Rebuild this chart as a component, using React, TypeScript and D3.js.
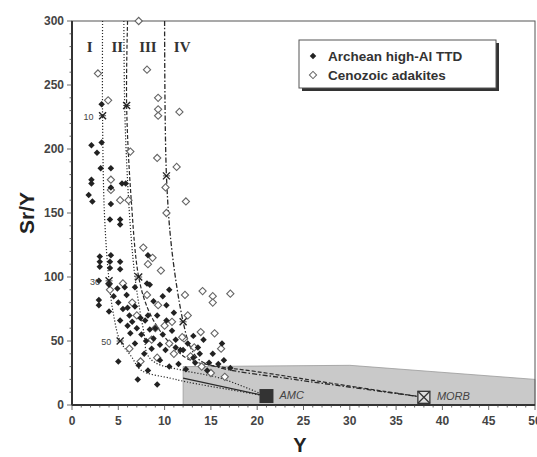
import React from "react";
import * as d3 from "d3";

const xTicks = [0, 5, 10, 15, 20, 25, 30, 35, 40, 45, 50];
const yTicks = [0, 50, 100, 150, 200, 250, 300];

const archean: [number, number][] = [
  [3.2, 235], [3.2, 205], [2.1, 203], [2.7, 197], [3.1, 185], [4.2, 185], [2.1, 176], [2.1, 173],
  [1.8, 164], [2.2, 159], [4.2, 170], [4.2, 157], [4.1, 145], [5.2, 145], [5.2, 141], [5.4, 173], [5.8, 173],
  [3.0, 116], [3.0, 112], [3.0, 108], [4.2, 117], [4.1, 112], [4.1, 107], [5.2, 112], [5.2, 106], [8.2, 117],
  [2.9, 97], [4.0, 94], [2.9, 82], [2.9, 78], [4.9, 91], [5.7, 92], [5.9, 86], [6.8, 92], [8.1, 95], [8.4, 94],
  [4.0, 73], [6.0, 76], [6.8, 77], [7.4, 68], [7.9, 66], [8.2, 70], [8.4, 59], [10.2, 66], [10.2, 78], [11.0, 72],
  [9.5, 47], [10.1, 43], [11.2, 51], [11.2, 45], [11.7, 43], [7.2, 31], [8.2, 27], [5.0, 34], [7.1, 20], [9.2, 16],
  [13.1, 54], [14.2, 51], [16.2, 48], [13.6, 45], [13.1, 37], [16.4, 35], [12.0, 43], [13.3, 33], [14.6, 27], [17.1, 29],
  [5.0, 80], [5.5, 75], [6.2, 70], [6.5, 65], [7.0, 60], [6.3, 56], [7.5, 55], [8.0, 50], [8.8, 52], [9.0, 60],
  [9.2, 70], [9.8, 85], [10.5, 90], [8.6, 44], [9.5, 35], [10.5, 30], [11.5, 32], [12.3, 28], [7.8, 40], [6.8, 48],
  [6.0, 62], [5.2, 66], [4.5, 85], [8.8, 81], [9.8, 55], [10.8, 58], [12.5, 48], [13.8, 40], [15.2, 40], [15.8, 32], [14.8, 33],
];

const cenozoic: [number, number][] = [
  [2.8, 259], [3.9, 238], [8.1, 262], [9.3, 240], [9.3, 231], [9.3, 226], [11.6, 229], [7.2, 300],
  [6.3, 198], [9.2, 193], [11.3, 186], [4.2, 176], [4.2, 168], [5.2, 160], [6.1, 160], [10.1, 170], [10.2, 150],
  [12.3, 159], [7.7, 123], [8.7, 115], [8.2, 110], [9.6, 105],
  [14.1, 89], [15.2, 85], [15.2, 80], [17.1, 87], [13.9, 57], [15.4, 56], [12.2, 86], [12.1, 52], [16.1, 44],
  [8.1, 86], [9.3, 78], [8.6, 51], [9.2, 37], [7.4, 34], [11.9, 53], [10.8, 65], [4.1, 90],
  [6.5, 80], [7.0, 70], [10.0, 62], [11.0, 40], [12.8, 38], [14.0, 30], [15.0, 25], [16.5, 22], [10.5, 48],
  [9.0, 60], [13.2, 45], [5.5, 95], [6.2, 44], [12.5, 70],
];

const curve1: [number, number][] = [[3.3, 300], [3.3, 226], [3.5, 150], [4.0, 97], [4.5, 70], [5.2, 50], [6.4, 38], [7.5, 27], [10.6, 21], [12.4, 18], [17, 12], [21, 7]];
const curve2: [number, number][] = [[5.6, 300], [5.7, 230], [6.0, 175], [6.4, 130], [6.8, 100], [7.3, 75], [7.8, 55], [8.1, 40], [9.0, 33], [12, 27], [16, 21], [21, 7]];
const curve3: [number, number][] = [[6.0, 300], [5.9, 234], [6.4, 160], [7.2, 100], [8.2, 75], [9.5, 58], [11, 45], [12.5, 36], [15, 31], [20, 26], [28, 17], [38, 6]];
const curve4: [number, number][] = [[10.0, 300], [10.2, 179], [10.8, 120], [12.0, 65], [12.8, 45], [13.8, 35], [16, 29], [24, 20], [32, 12], [38, 6]];
const amcTie: [number, number][] = [[12, 21], [21, 7]];
const shade: [number, number][] = [[12, 0], [12, 30], [30, 31], [50, 20], [50, 0]];

const crosses: [number, number][] = [[3.3, 226], [5.9, 234], [10.2, 179], [4.0, 97], [7.2, 100], [5.2, 50], [12.0, 65]];
const crossLabels: { t: string; p: [number, number] }[] = [
  { t: "10", p: [3.3, 226] },
  { t: "30", p: [4.0, 97] },
  { t: "50", p: [5.2, 50] },
];
const regionLabels: { t: string; x: number }[] = [
  { t: "I", x: 1.9 }, { t: "II", x: 4.9 }, { t: "III", x: 8.2 }, { t: "IV", x: 11.9 },
];
const amc: [number, number] = [21, 7];
const morb: [number, number] = [38, 6];

export default function App() {
  const W = 537, H = 457;
  const x = d3.scaleLinear().domain([0, 50]).range([72, 535]);
  const y = d3.scaleLinear().domain([0, 300]).range([405, 21]);
  const lineLin = d3.line<[number, number]>().x(d => x(d[0])).y(d => y(d[1]));
  const lineCR = d3.line<[number, number]>().x(d => x(d[0])).y(d => y(d[1])).curve(d3.curveCatmullRom.alpha(0.5));
  const sq = (s: number) => d3.symbol().type(d3.symbolSquare).size(s)() as string;
  const filledPath = sq(21);
  const openPath = sq(26);
  const ink = "#2a2a2a";
  const font = "'Liberation Sans', Arial, sans-serif";
  const xMinor = d3.range(0, 51, 1);
  const yMinor = d3.range(0, 301, 10);

  return (
    <svg width={W} height={H} style={{ position: "absolute", left: 0, top: 0, background: "#fff" }}>
      <path d={(lineLin(shade) as string) + "Z"} fill="#c9c9c9" stroke="#9a9a9a" strokeWidth={0.8} />
      <rect x={x(0)} y={y(300)} width={x(50) - x(0)} height={y(0) - y(300)} fill="none" stroke="#555" strokeWidth={1} />
      <line x1={x(0)} x2={x(0)} y1={y(0)} y2={y(300)} stroke="#333" strokeWidth={2} />
      <line x1={x(0)} x2={x(50)} y1={y(0)} y2={y(0)} stroke="#333" strokeWidth={2} />
      {xMinor.map(v => (
        <line key={"xm" + v} x1={x(v)} x2={x(v)} y1={y(0)} y2={y(0) + (v % 5 === 0 ? 5 : 2.5)} stroke="#444" strokeWidth={0.8} />
      ))}
      {yMinor.map(v => (
        <line key={"ym" + v} x1={x(0)} x2={x(0) - (v % 50 === 0 ? 5 : 2.5)} y1={y(v)} y2={y(v)} stroke="#444" strokeWidth={0.8} />
      ))}
      {xTicks.map(v => (
        <text key={"xt" + v} x={x(v)} y={y(0) + 20} textAnchor="middle" fontFamily={font} fontWeight="bold" fontSize={12} fill="#444">{v}</text>
      ))}
      {yTicks.map(v => (
        <text key={"yt" + v} x={x(0) - 8} y={y(v) + 4} textAnchor="end" fontFamily={font} fontWeight="bold" fontSize={12} fill="#444">{v}</text>
      ))}
      <text x={300} y={452} textAnchor="middle" fontFamily={font} fontWeight="bold" fontSize={20} fill="#222">Y</text>
      <text transform={`translate(34,${y(150)}) rotate(-90)`} textAnchor="middle" fontFamily={font} fontWeight="bold" fontSize={21} fill="#222">Sr/Y</text>

      <path d={lineCR(curve1) as string} fill="none" stroke={ink} strokeWidth={1.2} strokeDasharray="1.2,1.8" />
      <path d={lineCR(curve2) as string} fill="none" stroke={ink} strokeWidth={1.2} strokeDasharray="1.2,1.8" />
      <path d={lineCR(curve3) as string} fill="none" stroke={ink} strokeWidth={1.2} strokeDasharray="4,2" />
      <path d={lineCR(curve4) as string} fill="none" stroke={ink} strokeWidth={1.3} strokeDasharray="5,2,1.5,2" />
      <path d={lineLin(amcTie) as string} fill="none" stroke={ink} strokeWidth={1.3} />

      {cenozoic.map((d, i) => (
        <path key={"c" + i} d={openPath} transform={`translate(${x(d[0])},${y(d[1])}) rotate(45)`} fill="#fff" stroke="#666" strokeWidth={1.1} />
      ))}
      {archean.map((d, i) => (
        <path key={"a" + i} d={filledPath} transform={`translate(${x(d[0])},${y(d[1])}) rotate(45)`} fill="#222" />
      ))}
      {crosses.map((d, i) => (
        <g key={"x" + i} transform={`translate(${x(d[0])},${y(d[1])})`} stroke="#222" strokeWidth={1.4}>
          <line x1={-3.5} y1={-3.5} x2={3.5} y2={3.5} />
          <line x1={-3.5} y1={3.5} x2={3.5} y2={-3.5} />
          <line x1={-3.5} y1={0} x2={3.5} y2={0} strokeWidth={0.8} />
        </g>
      ))}
      {crossLabels.map((c, i) => (
        <text key={"cl" + i} x={x(c.p[0]) - 9} y={y(c.p[1]) + 4} textAnchor="end" fontFamily={font} fontSize={9} fill="#444">{c.t}</text>
      ))}
      {regionLabels.map((r, i) => (
        <text key={"r" + i} x={x(r.x)} y={52} textAnchor="middle" fontFamily="'Liberation Serif', 'Times New Roman', serif" fontWeight="bold" fontSize={15} fill="#333">{r.t}</text>
      ))}

      <rect x={x(amc[0]) - 7} y={y(amc[1]) - 7} width={14} height={14} fill="#333" />
      <text x={x(amc[0]) + 13} y={y(amc[1]) + 3} fontFamily={font} fontStyle="italic" fontSize={11} fill="#444">AMC</text>
      <g transform={`translate(${x(morb[0])},${y(morb[1])})`} stroke="#333" strokeWidth={1.3} fill="none">
        <rect x={-6} y={-6} width={12} height={12} fill="#ddd" />
        <line x1={-6} y1={-6} x2={6} y2={6} />
        <line x1={-6} y1={6} x2={6} y2={-6} />
      </g>
      <text x={x(morb[0]) + 13} y={y(morb[1]) + 3} fontFamily={font} fontStyle="italic" fontSize={11} fill="#444">MORB</text>

      <rect x={302} y={43} width={197} height={48} fill="#333" />
      <rect x={299} y={40} width={197} height={48} fill="#fff" stroke="#555" strokeWidth={1} />
      <path d={filledPath} transform="translate(313,56) rotate(45)" fill="#222" />
      <path d={openPath} transform="translate(313,75) rotate(45)" fill="#fff" stroke="#666" strokeWidth={1} />
      <text x={328} y={61} fontFamily={font} fontWeight="bold" fontSize={13.5} fill="#333">Archean high-Al TTD</text>
      <text x={328} y={80} fontFamily={font} fontWeight="bold" fontSize={13.5} fill="#333">Cenozoic adakites</text>
    </svg>
  );
}
